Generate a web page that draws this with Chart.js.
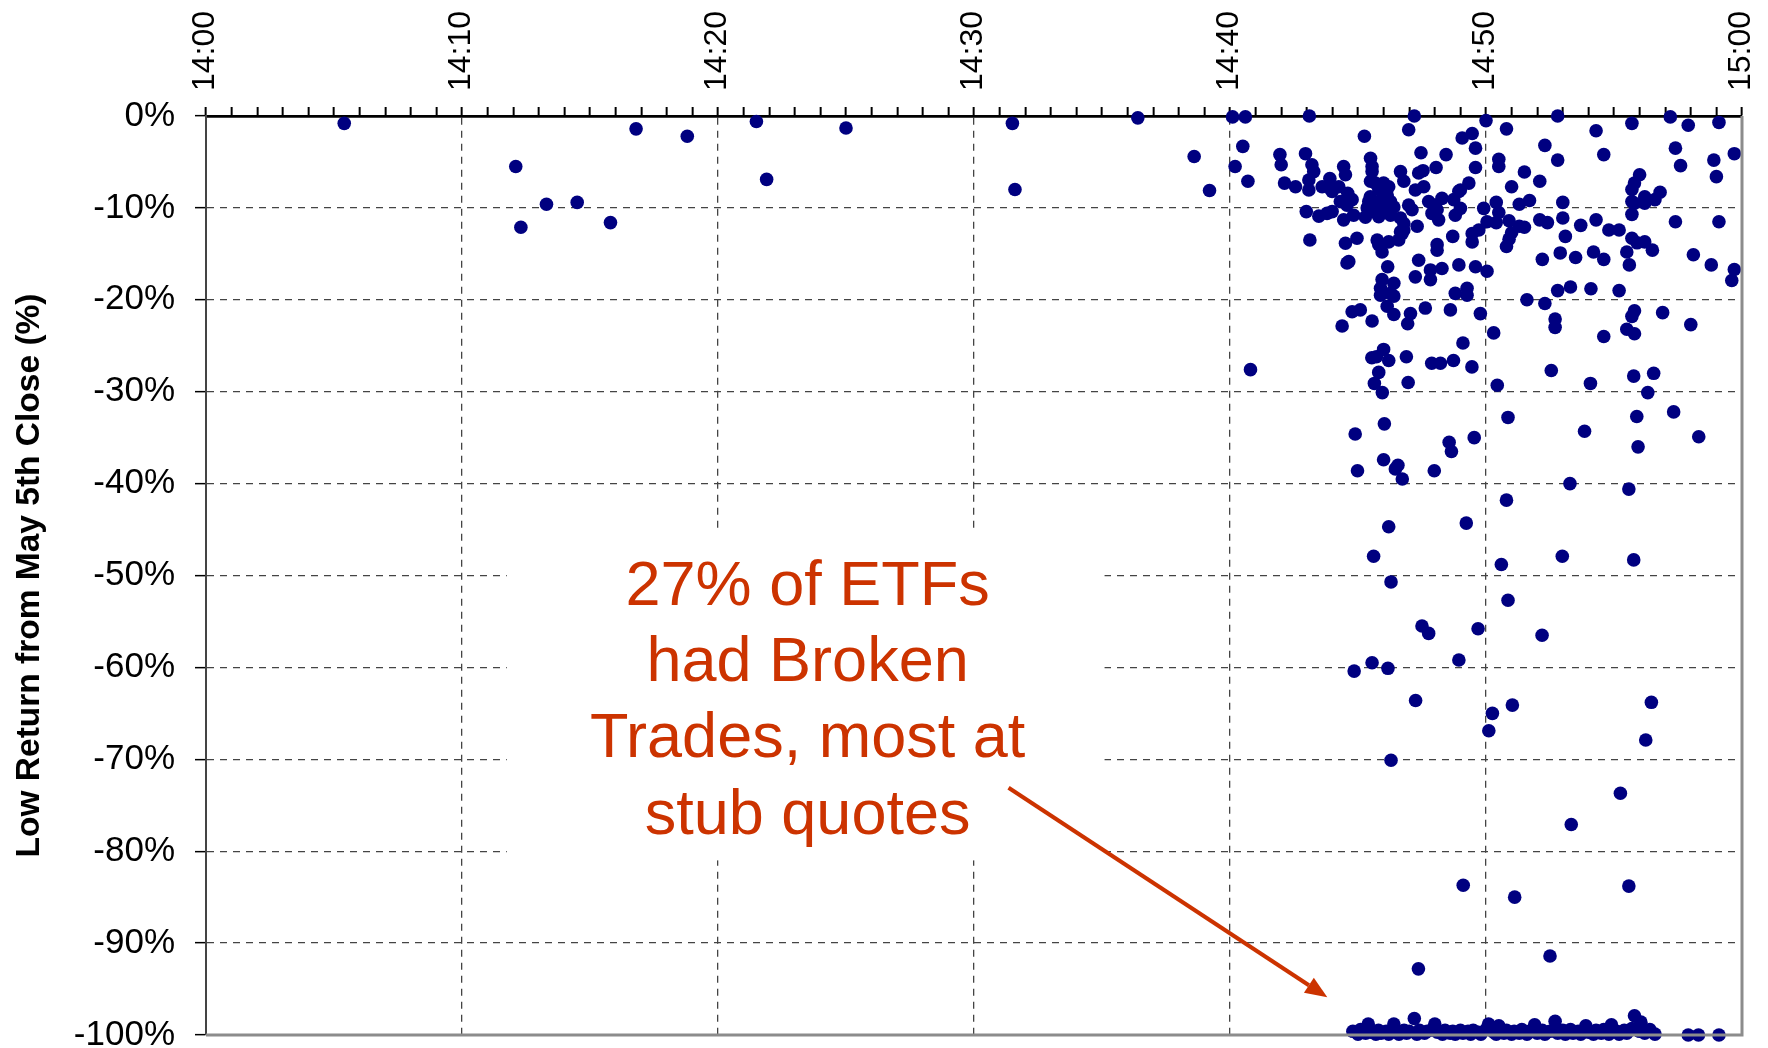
<!DOCTYPE html>
<html>
<head>
<meta charset="utf-8">
<title>ETF low returns</title>
<script src="https://cdn.jsdelivr.net/npm/chart.js@4.4.1/dist/chart.umd.min.js"></script>
<style>
  html, body { margin: 0; padding: 0; background: #fff; }
  #wrap { width: 1768px; height: 1048px; }
</style>
</head>
<body>
<div id="wrap"><canvas id="chartScatter" width="1768" height="1048"></canvas></div>
<script>
// x = minutes after 14:00, y = low return in %
const timeLabels = ['14:00', '14:10', '14:20', '14:30', '14:40', '14:50', '15:00'];
const returnLabels = ['0%', '-10%', '-20%', '-30%', '-40%', '-50%', '-60%', '-70%', '-80%', '-90%', '-100%'];

const earlyTrades = [
  [5.4, -0.8], [12.1, -5.5], [12.3, -12.1], [13.3, -9.6], [14.5, -9.4], [15.8, -11.6],
  [16.8, -1.4], [18.8, -2.2], [21.5, -0.6], [21.9, -6.9], [25.0, -1.3], [31.5, -0.8],
  [31.6, -8.0], [36.4, -0.2], [38.6, -4.4], [39.2, -8.1], [40.1, -0.1], [40.6, -0.1],
  [40.5, -3.3], [40.2, -5.5], [40.7, -7.1], [40.8, -27.6], [41.95, -4.2], [42.0, -5.3], [42.13, -7.3]
];

const topRow = [
  [43.1, 0], [47.2, 0], [50.0, -0.5], [52.8, 0], [55.7, -0.8], [57.2, -0.1], [57.9, -1.0],
  [59.1, -0.7], [50.8, -1.4], [54.3, -1.6]
];

const clusterTrades = [
  [45.25, -2.2], [46.98, -1.5], [49.07, -2.4], [49.46, -1.9], [49.59, -3.5], [42.95, -4.1],
  [47.46, -4.0], [48.44, -4.2], [43.2, -5.3], [43.27, -6.05], [44.44, -5.5], [44.51, -6.4],
  [45.49, -4.6], [45.55, -5.5], [45.55, -6.05], [46.66, -6.05], [46.79, -7.1], [47.37, -6.2],
  [47.54, -5.95], [48.05, -5.6], [49.59, -5.6], [42.56, -7.7], [43.08, -6.96], [43.08, -8.05],
  [43.9, -6.8], [43.92, -7.9], [43.99, -8.2], [43.6, -7.7], [44.25, -7.7], [44.6, -8.4],
  [44.77, -9.1], [44.31, -9.3], [44.57, -9.7], [45.49, -7.1], [45.68, -7.3], [45.81, -7.9],
  [46.0, -7.3], [46.2, -7.7], [45.48, -8.8], [45.61, -9.3], [45.75, -9.9], [45.94, -9.0],
  [46.14, -8.6], [46.27, -9.3], [46.4, -9.9], [46.0, -10.2], [45.61, -10.4], [45.81, -10.95],
  [46.27, -10.8], [45.42, -9.3], [45.36, -10.0], [46.66, -11.1], [46.79, -11.7], [46.66, -12.6],
  [46.79, -12.4], [46.98, -9.7], [47.11, -10.2], [47.24, -8.05], [47.57, -7.7], [47.76, -9.3],
  [47.96, -9.7], [48.09, -10.2], [48.15, -11.3], [47.89, -10.6], [48.28, -8.96], [48.74, -9.1],
  [48.94, -8.2], [49.0, -10.05], [48.8, -10.8], [49.33, -7.3], [49.0, -8.05], [49.91, -10.05],
  [50.04, -11.5], [42.98, -10.4], [43.47, -10.9], [43.79, -10.6], [43.99, -10.4], [44.44, -11.3],
  [44.83, -10.8], [45.29, -11.0], [43.12, -13.5], [44.51, -13.85], [44.96, -13.3], [45.75, -13.5],
  [45.81, -14.0], [45.94, -14.8], [46.2, -13.7], [46.59, -13.5], [46.72, -12.8], [47.31, -12.0],
  [48.09, -14.6], [48.09, -14.0], [48.7, -13.1], [49.46, -12.8], [49.72, -12.4], [49.46, -13.7],
  [44.57, -16.0], [44.64, -15.85], [46.16, -16.4], [47.37, -15.7], [47.83, -16.75], [48.28, -16.6],
  [48.94, -16.2], [49.59, -16.4], [50.04, -16.9], [47.24, -17.5], [47.83, -17.8], [45.94, -17.8],
  [46.4, -18.2], [45.88, -18.75], [46.27, -19.3], [45.88, -19.5], [46.4, -19.6], [46.14, -20.7],
  [46.4, -21.6], [48.8, -19.3], [49.26, -18.75], [49.26, -19.5], [44.77, -21.3], [45.09, -21.1],
  [45.55, -22.3], [44.38, -22.85], [46.94, -22.6], [47.05, -21.5], [47.63, -20.9], [48.61, -21.1],
  [49.78, -21.5]
];

const lateTrades = [
  [50.5, -4.7], [50.5, -5.5], [50.4, -9.4], [50.5, -10.5], [50.4, -11.6], [50.9, -11.4],
  [51.3, -12.0], [51.5, -12.1], [51.0, -12.7], [50.9, -13.4], [50.8, -14.2], [51.5, -6.1],
  [51.0, -7.7], [52.1, -7.1], [51.3, -9.6], [51.7, -9.2], [52.1, -11.3], [52.4, -11.6],
  [53.0, -9.4], [53.0, -11.1], [53.1, -13.1], [52.9, -14.9], [52.2, -15.6], [53.5, -15.4],
  [53.7, -11.9], [54.3, -11.3], [54.8, -12.4], [55.2, -12.4], [54.2, -14.8], [54.6, -15.6],
  [55.7, -9.3], [55.8, -7.3], [55.7, -8.0], [56.0, -6.4], [55.8, -9.5], [56.2, -8.8],
  [56.2, -9.5], [56.6, -9.1], [56.8, -8.3], [55.7, -10.7], [55.7, -13.3], [55.9, -13.8],
  [56.2, -13.7], [56.5, -14.6], [55.5, -14.8], [55.6, -16.2], [57.4, -11.5], [58.1, -15.1],
  [58.8, -16.2], [59.1, -11.5], [59.7, -16.7], [59.6, -17.9], [56.9, -21.4], [50.3, -23.6],
  [51.6, -20.0], [52.3, -20.4], [52.8, -19.0], [53.3, -18.6], [54.1, -18.8], [55.2, -19.0],
  [52.7, -22.1], [52.7, -23.0], [54.6, -24.0], [55.5, -23.2], [55.8, -23.7], [55.8, -21.2],
  [55.7, -21.8], [58.0, -22.7], [52.3, -3.2], [52.8, -4.8], [54.6, -4.2], [57.4, -3.5],
  [57.6, -5.4], [58.9, -4.8], [59.0, -6.6], [59.7, -4.1]
];

const deepTrades = [
  [49.1, -24.7], [46.0, -25.4], [45.54, -26.3], [45.72, -26.2], [46.2, -26.6], [46.89, -26.2],
  [47.88, -26.9], [48.22, -26.9], [48.73, -26.6], [49.45, -27.3], [45.81, -27.9], [45.64, -29.1],
  [45.95, -30.1], [46.96, -29.0], [50.44, -29.3], [52.55, -27.7], [54.08, -29.1], [55.77, -28.3],
  [56.55, -28.0], [56.32, -30.1], [46.03, -33.5], [44.89, -34.6], [50.86, -32.8], [53.85, -34.3],
  [55.89, -32.7], [57.33, -32.2], [55.94, -36.0], [58.31, -34.9], [48.56, -35.5], [48.65, -36.5],
  [49.54, -35.0], [46.0, -37.4], [46.56, -38.0], [46.46, -38.4], [46.73, -39.5], [44.98, -38.6],
  [47.98, -38.6], [53.28, -40.0], [55.58, -40.6], [50.8, -41.8], [46.2, -44.7], [49.23, -44.3],
  [45.61, -47.9], [50.6, -48.8], [52.98, -47.9], [55.77, -48.3], [46.29, -50.7], [50.86, -52.7],
  [47.5, -55.5], [47.76, -56.3], [49.69, -55.8], [52.19, -56.5], [48.94, -59.2], [45.55, -59.5],
  [46.17, -60.1], [44.85, -60.4], [47.25, -63.6], [51.03, -64.1], [50.25, -65.0], [50.11, -66.9],
  [56.46, -63.8], [56.24, -67.9], [46.29, -70.1], [55.25, -73.7], [53.33, -77.1], [49.11, -83.7],
  [51.12, -85.0], [55.58, -83.8], [47.36, -92.8], [52.5, -91.4]
];

// trades executed at stub quotes
const stubTrades = [
  [44.8, -99.6], [45.0, -99.9], [45.1, -99.4], [45.3, -99.8], [45.4, -98.8], [45.5, -99.7],
  [45.7, -99.9], [45.8, -99.5], [45.9, -99.8], [46.1, -99.6], [46.2, -99.9], [46.4, -98.8],
  [46.5, -99.7], [46.6, -99.9], [46.8, -99.5], [46.9, -99.8], [47.0, -99.6], [47.2, -98.2],
  [47.3, -99.9], [47.4, -99.5], [47.6, -99.8], [47.7, -99.6], [47.9, -99.4], [48.0, -98.8],
  [48.1, -99.7], [48.3, -99.9], [48.4, -99.5], [48.6, -99.8], [48.7, -99.6], [48.8, -99.9],
  [49.0, -99.5], [49.1, -99.8], [49.3, -99.6], [49.4, -99.9], [49.5, -99.5], [49.7, -99.7],
  [49.8, -99.9], [50.0, -99.4], [50.1, -98.8], [50.3, -99.7], [50.4, -99.9], [50.5, -99.0],
  [50.7, -99.8], [50.8, -99.5], [51.0, -99.9], [51.1, -99.6], [51.3, -99.8], [51.4, -99.4],
  [51.6, -99.9], [51.7, -99.6], [51.9, -98.9], [52.0, -99.8], [52.2, -99.5], [52.3, -99.9],
  [52.5, -99.6], [52.7, -98.5], [52.8, -99.8], [53.0, -99.5], [53.1, -99.9], [53.3, -99.4],
  [53.4, -99.8], [53.6, -99.6], [53.7, -99.9], [53.9, -99.0], [54.0, -99.7], [54.2, -99.9],
  [54.3, -99.5], [54.5, -99.8], [54.6, -99.4], [54.8, -99.9], [54.9, -98.9], [55.1, -99.6],
  [55.2, -99.9], [55.4, -99.5], [55.5, -99.8], [55.7, -99.3], [55.8, -97.9], [56.0, -99.6],
  [56.05, -98.6], [56.2, -99.8], [56.4, -99.4], [56.6, -99.9], [57.9, -100], [58.3, -100], [59.1, -100]
];

// annotation box, text and arrow, in axis units
const note = {
  lines: ['27% of ETFs', 'had Broken', 'Trades, most at', 'stub quotes'],
  centerX: 23.5,
  baselines: [-53.2, -61.5, -69.7, -78.1],
  box: { x1: 11.75, x2: 35.1, y1: -45.3, y2: -81.0 },
  arrow: { x1: 31.35, y1: -73.1, x2: 43.8, y2: -95.9 }
};

const allTrades = [].concat(earlyTrades, topRow, clusterTrades, lateTrades, deepTrades, stubTrades)
  .map(p => ({ x: p[0], y: p[1] }));

const fontFamily = "'Liberation Sans', Arial, sans-serif";
const noteColor = '#CC3300';

const notePlugin = {
  id: 'notePlugin',
  beforeDatasetsDraw(chart) {
    const { ctx, scales: { x, y } } = chart;
    const bx1 = x.getPixelForValue(note.box.x1);
    const bx2 = x.getPixelForValue(note.box.x2);
    const by1 = y.getPixelForValue(note.box.y1);
    const by2 = y.getPixelForValue(note.box.y2);
    ctx.save();
    ctx.fillStyle = '#ffffff';
    ctx.fillRect(bx1, by1, bx2 - bx1, by2 - by1);
    ctx.fillStyle = noteColor;
    ctx.font = '63px ' + fontFamily;
    ctx.textAlign = 'center';
    ctx.textBaseline = 'alphabetic';
    note.lines.forEach((line, i) => {
      ctx.fillText(line, x.getPixelForValue(note.centerX), y.getPixelForValue(note.baselines[i]));
    });
    ctx.restore();
  },
  afterDatasetsDraw(chart) {
    const { ctx, chartArea, scales: { x, y } } = chart;
    ctx.save();
    // right and bottom frame
    ctx.strokeStyle = '#8c8c8c';
    ctx.lineWidth = 3;
    ctx.beginPath();
    ctx.moveTo(chartArea.right, chartArea.top);
    ctx.lineTo(chartArea.right, chartArea.bottom);
    ctx.lineTo(chartArea.left, chartArea.bottom);
    ctx.stroke();

    // arrow
    const ax1 = x.getPixelForValue(note.arrow.x1);
    const ay1 = y.getPixelForValue(note.arrow.y1);
    const ax2 = x.getPixelForValue(note.arrow.x2);
    const ay2 = y.getPixelForValue(note.arrow.y2);
    const ang = Math.atan2(ay2 - ay1, ax2 - ax1);
    const headLen = 22, headHalf = 9;
    const bx = ax2 - headLen * Math.cos(ang);
    const by = ay2 - headLen * Math.sin(ang);
    ctx.strokeStyle = noteColor;
    ctx.fillStyle = noteColor;
    ctx.lineWidth = 4;
    ctx.beginPath();
    ctx.moveTo(ax1, ay1);
    ctx.lineTo(bx, by);
    ctx.stroke();
    ctx.beginPath();
    ctx.moveTo(ax2, ay2);
    ctx.lineTo(bx + headHalf * Math.sin(ang), by - headHalf * Math.cos(ang));
    ctx.lineTo(bx - headHalf * Math.sin(ang), by + headHalf * Math.cos(ang));
    ctx.closePath();
    ctx.fill();
    ctx.restore();
  }
};

Chart.defaults.font.family = fontFamily;
Chart.defaults.color = '#000';

new Chart(document.getElementById('chartScatter'), {
  type: 'scatter',
  data: {
    datasets: [{
      label: 'ETFs',
      data: allTrades,
      backgroundColor: '#000080',
      borderColor: '#000080',
      borderWidth: 0,
      pointRadius: 6.8,
      pointHoverRadius: 6.8,
      clip: false
    }]
  },
  options: {
    responsive: false,
    animation: false,
    events: [],
    layout: { padding: { left: 0, top: 0, right: 26, bottom: 13 } },
    plugins: {
      legend: { display: false },
      tooltip: { enabled: false }
    },
    scales: {
      x: {
        type: 'linear',
        position: 'top',
        min: 0,
        max: 60,
        afterFit: (scale) => {
          scale.height = 116;
          scale.paddingLeft = 0;
          scale.paddingRight = 0;
        },
        ticks: {
          stepSize: 1,
          autoSkip: false,
          minRotation: 90,
          maxRotation: 90,
          padding: 16,
          labelOffset: 38,
          color: '#000',
          font: { size: 32 },
          callback: (value) => value % 10 === 0 ? timeLabels[value / 10] : ''
        },
        grid: {
          color: (ctx) => (ctx.tick && ctx.tick.value % 10 === 0) ? '#444' : 'rgba(0,0,0,0)',
          lineWidth: 1.3,
          tickColor: '#000',
          tickLength: 9,
          tickWidth: 2
        },
        border: { color: '#000', width: 2.7, dash: [7, 6] }
      },
      y: {
        min: -100,
        max: 0,
        afterFit: (scale) => {
          scale.width = 206;
          scale.paddingTop = 0;
          scale.paddingBottom = 0;
        },
        ticks: {
          stepSize: 10,
          padding: 20,
          color: '#000',
          font: { size: 35 },
          callback: (value) => returnLabels[Math.round(-value / 10)]
        },
        grid: {
          color: '#444',
          lineWidth: 1.3,
          tickColor: '#000',
          tickLength: 11,
          tickWidth: 1.5
        },
        border: { color: '#444', width: 2, dash: [7, 6] },
        title: {
          display: true,
          text: 'Low Return from May 5th Close (%)',
          color: '#000',
          font: { size: 33.5, weight: 'bold' },
          padding: { top: 10, bottom: 0 }
        }
      }
    }
  },
  plugins: [notePlugin]
});
</script>
</body>
</html>
